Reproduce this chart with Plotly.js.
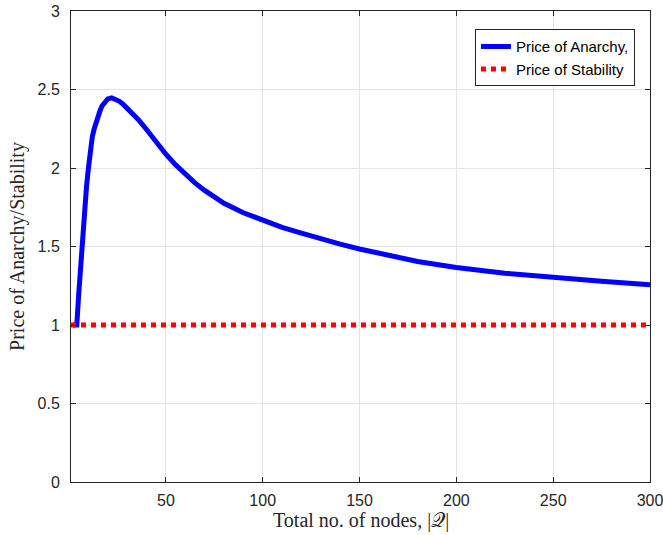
<!DOCTYPE html>
<html>
<head>
<meta charset="utf-8">
<script src="https://cdn.plot.ly/plotly-3.0.1.min.js"></script>
<style>html,body{margin:0;padding:0;background:#fff;}#chart{width:663px;height:535px;}</style>
</head>
<body>
<div id="chart"></div>
<script>
// Data
const nodes = [2, 4, 5, 6, 7, 8, 9, 10, 11, 12, 13, 14, 15, 16, 17, 18, 19, 20, 22, 24, 26, 28, 30, 33, 36, 40, 45, 50, 55, 60, 65, 70, 75, 80, 90, 100, 110, 120, 130, 140, 150, 160, 170, 180, 190, 200, 225, 250, 275, 300];
const priceOfAnarchy = [1.0, 1.0, 1.2, 1.39, 1.56, 1.72, 1.88, 2.0, 2.11, 2.2, 2.25, 2.295, 2.33, 2.365, 2.395, 2.415, 2.43, 2.44, 2.447, 2.44, 2.425, 2.405, 2.382, 2.345, 2.305, 2.245, 2.165, 2.088, 2.02, 1.96, 1.905, 1.857, 1.813, 1.775, 1.715, 1.667, 1.622, 1.585, 1.548, 1.515, 1.484, 1.455, 1.43, 1.405, 1.385, 1.366, 1.33, 1.302, 1.279, 1.257];
const stabilityNodes = [1, 300];
const priceOfStability = [1, 1];
const seriesNames = ["Price of Anarchy,", "Price of Stability"];
const xTicks = [50, 100, 150, 200, 250, 300];
const yTicks = [0, 0.5, 1, 1.5, 2, 2.5, 3];
const xTitle = 'Total no. of nodes, |𝒬|';
const yTitle = 'Price of Anarchy/Stability';

const traces = [
  {x: nodes, y: priceOfAnarchy, name: seriesNames[0], mode: 'lines',
   line: {color: '#0000ff', width: 5}},
  {x: stabilityNodes, y: priceOfStability, name: seriesNames[1], mode: 'lines',
   line: {color: '#ff0000', width: 5, dash: 'dot'}}
];

const axisCommon = {
  showgrid: true, gridcolor: '#e3e3e3', gridwidth: 1,
  zeroline: false, showline: true, linecolor: '#262626', linewidth: 1, mirror: 'ticks',
  ticks: 'inside', ticklen: 5, tickcolor: '#262626', ticklabeloverflow: 'allow',
  tickfont: {family: 'Liberation Sans, Arial, sans-serif', size: 16, color: '#262626'}
};

const layout = {
  width: 663, height: 535,
  margin: {l: 71, r: 13, t: 11, b: 53},
  paper_bgcolor: '#ffffff', plot_bgcolor: '#ffffff',
  showlegend: true,
  xaxis: Object.assign({}, axisCommon, {
    range: [1, 300], tickvals: xTicks, ticktext: xTicks.map(String), ticklabelstandoff: 4
  }),
  yaxis: Object.assign({}, axisCommon, {
    range: [0, 3], tickvals: yTicks, ticktext: yTicks.map(String), ticklabelstandoff: 7,
    title: {text: yTitle, standoff: 7,
      font: {family: 'Liberation Serif, Times New Roman, serif', size: 20, color: '#262626'}}
  }),
  annotations: [{
    text: xTitle, xref: 'paper', yref: 'paper', x: 0.5, y: -0.081,
    xanchor: 'center', yanchor: 'middle', showarrow: false, borderpad: 0,
    font: {family: 'Liberation Serif, Times New Roman, serif', size: 20, color: '#262626'}
  }],
  legend: {
    x: 0.974, y: 0.961, xanchor: 'right', yanchor: 'top',
    bgcolor: '#ffffff', bordercolor: '#262626', borderwidth: 1,
    font: {family: 'Liberation Sans, Arial, sans-serif', size: 15, color: '#000000'},
    tracegroupgap: 0
  }
};

Plotly.newPlot('chart', traces, layout, {displayModeBar: false, staticPlot: true});
</script>
</body>
</html>
